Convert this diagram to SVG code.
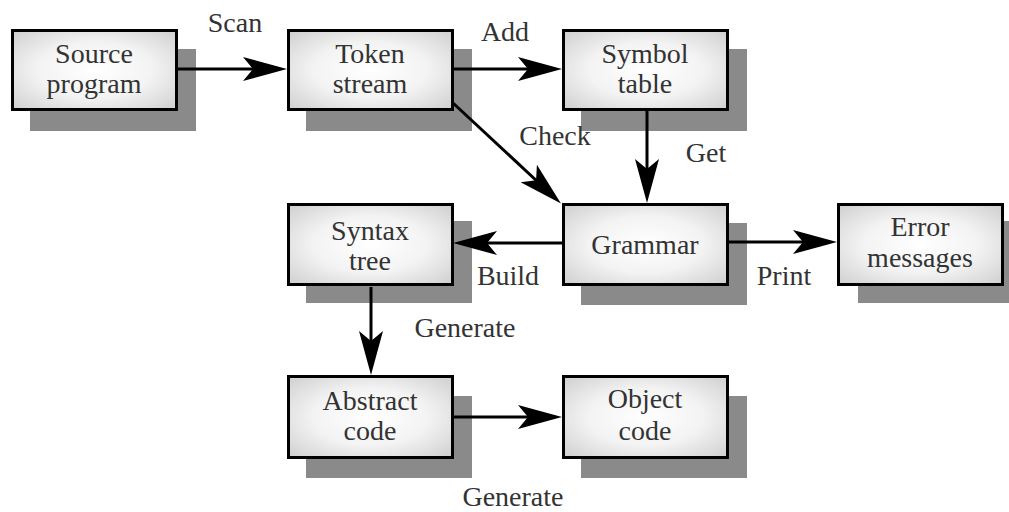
<svg xmlns="http://www.w3.org/2000/svg" width="1009" height="512" viewBox="0 0 1009 512" font-family="Liberation Serif, Times New Roman, Times, DejaVu Serif, serif">
  <style>
    .shadow { fill: #8a8a8a; }
    .box { fill: url(#boxFill); stroke: #000; stroke-width: 3; }
    .lbl { font-size: 28px; fill: #333; text-anchor: middle; }
    .edge { stroke: #000; stroke-width: 3; fill: none; marker-end: url(#arrow); }
  </style>
  <defs>
    <radialGradient id="boxFill" cx="50%" cy="50%" r="70%">
      <stop offset="0" stop-color="#ffffff"/>
      <stop offset="0.5" stop-color="#f3f3f3"/>
      <stop offset="1" stop-color="#cfcfcf"/>
    </radialGradient>
    <marker id="arrow" markerUnits="userSpaceOnUse" viewBox="-46 -14 48 28" refX="-30" refY="0" markerWidth="48" markerHeight="28" orient="auto">
      <path d="M0,0 L-44,-12 L-34,0 L-44,12 Z" fill="#000"/>
    </marker>
  </defs>

  <!-- nodes: shadow + framed box + caption -->
  <g id="source-program">
    <rect class="shadow" x="30" y="49" width="166" height="82"/>
    <rect class="box" x="12.5" y="30.5" width="164" height="79"/>
    <text class="lbl" x="94" y="63">Source</text>
    <text class="lbl" x="94" y="93">program</text>
  </g>
  <g id="token-stream">
    <rect class="shadow" x="306" y="49" width="166" height="82"/>
    <rect class="box" x="288.5" y="30.5" width="164" height="79"/>
    <text class="lbl" x="370" y="63">Token</text>
    <text class="lbl" x="370" y="93">stream</text>
  </g>
  <g id="symbol-table">
    <rect class="shadow" x="581" y="49" width="166" height="82"/>
    <rect class="box" x="563.5" y="30.5" width="164" height="79"/>
    <text class="lbl" x="645" y="63">Symbol</text>
    <text class="lbl" x="645" y="93">table</text>
  </g>
  <g id="grammar">
    <rect class="shadow" x="581" y="223" width="166" height="82"/>
    <rect class="box" x="563.5" y="204.5" width="164" height="80"/>
    <text class="lbl" x="645" y="254">Grammar</text>
  </g>
  <g id="syntax-tree">
    <rect class="shadow" x="306" y="221" width="166" height="82"/>
    <rect class="box" x="288.5" y="204.5" width="164" height="80"/>
    <text class="lbl" x="370" y="240">Syntax</text>
    <text class="lbl" x="370" y="270">tree</text>
  </g>
  <g id="error-messages">
    <rect class="shadow" x="858" y="221" width="166" height="82"/>
    <rect class="box" x="838.5" y="204.5" width="164" height="80"/>
    <text class="lbl" x="920" y="236">Error</text>
    <text class="lbl" x="920" y="267">messages</text>
  </g>
  <g id="abstract-code">
    <rect class="shadow" x="306" y="396" width="166" height="82"/>
    <rect class="box" x="288.5" y="376.5" width="164" height="81"/>
    <text class="lbl" x="370" y="410">Abstract</text>
    <text class="lbl" x="370" y="440">code</text>
  </g>
  <g id="object-code">
    <rect class="shadow" x="581" y="396" width="166" height="82"/>
    <rect class="box" x="563.5" y="376.5" width="164" height="81"/>
    <text class="lbl" x="645" y="408">Object</text>
    <text class="lbl" x="645" y="440">code</text>
  </g>

  <!-- connectors with their labels -->
  <g id="connectors">
    <line class="edge" x1="178" y1="69" x2="257" y2="69"/>
    <line class="edge" x1="453" y1="69" x2="532" y2="69"/>
    <line class="edge" x1="453" y1="103" x2="539" y2="183"/>
    <line class="edge" x1="647" y1="110" x2="647" y2="173"/>
    <line class="edge" x1="562" y1="243" x2="483" y2="243"/>
    <line class="edge" x1="728" y1="242" x2="807" y2="242"/>
    <line class="edge" x1="371" y1="287" x2="371" y2="345"/>
    <line class="edge" x1="453" y1="417" x2="532" y2="417"/>

    <text class="lbl" x="235" y="32">Scan</text>
    <text class="lbl" x="505" y="41">Add</text>
    <text class="lbl" x="555" y="145">Check</text>
    <text class="lbl" x="706" y="162">Get</text>
    <text class="lbl" x="508" y="285">Build</text>
    <text class="lbl" x="784" y="285">Print</text>
    <text class="lbl" x="465" y="337">Generate</text>
    <text class="lbl" x="513" y="506">Generate</text>
  </g>
</svg>
